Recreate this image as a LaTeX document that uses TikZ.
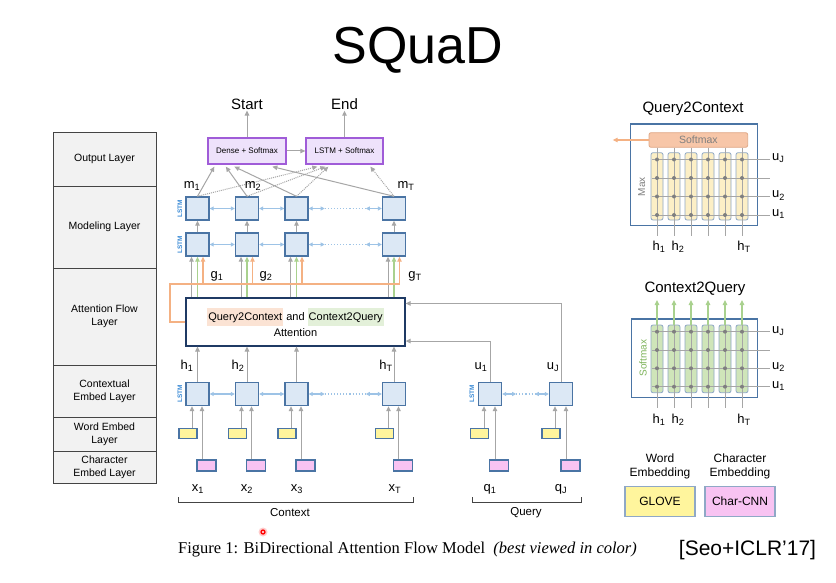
\documentclass[tikz,border=0pt]{standalone}
\usepackage{fontspec}
\setmainfont{Liberation Sans}
\newfontfamily\serifcap{Liberation Serif}
\usetikzlibrary{arrows.meta,calc}
\newcommand\myfs[2]{\fontsize{#1bp}{#2bp}\selectfont}
\newcommand\hlbox[2]{{\setlength{\fboxsep}{1bp}\colorbox{#1}{\strut #2}}}
\definecolor{lstmf}{HTML}{DCE8F5}
\definecolor{lstmb}{HTML}{4A74A4}
\definecolor{arrg}{HTML}{A6A6A6}
\definecolor{lblue}{HTML}{9DC3E6}
\definecolor{grn}{HTML}{A9D18E}
\definecolor{orng}{HTML}{F4B183}
\definecolor{ylw}{HTML}{FFF59D}
\definecolor{pnk}{HTML}{F8C3F2}
\definecolor{navy}{HTML}{1F3A64}
\definecolor{purp}{HTML}{A05CD8}
\definecolor{lav}{HTML}{EEE2FB}
\definecolor{lstmtxt}{HTML}{3B8BD6}
\definecolor{tblf}{HTML}{F2F2F2}
\definecolor{tblb}{HTML}{444444}
\definecolor{smxf}{HTML}{F7C6A8}
\definecolor{smxb}{HTML}{E0A987}
\definecolor{colyf}{HTML}{FCEFC6}
\definecolor{colgf}{HTML}{CFE5B9}
\definecolor{colb}{HTML}{8FA8C6}
\definecolor{dotg}{HTML}{7F7F7F}
\definecolor{hlo}{HTML}{FBE3D4}
\definecolor{hlg}{HTML}{E3F0D9}
\definecolor{txtg}{HTML}{7F7F7F}
\definecolor{txtgr}{HTML}{7DB35A}
\tikzset{
 lstm/.style={draw=lstmb, fill=lstmf, line width=1.4bp, minimum width=23bp, minimum height=23bp, inner sep=0pt},
 wbox/.style={draw=lstmb, fill=ylw, line width=1.1bp, minimum width=18bp, minimum height=10bp, inner sep=0pt},
 cbox/.style={draw=lstmb, fill=pnk, line width=1.1bp, minimum width=19bp, minimum height=11bp, inner sep=0pt},
 tip/.style={-{Triangle[length=5bp,width=4.5bp]}},
 ga/.style={draw=arrg, line width=1bp, tip},
 gdot/.style={draw=arrg, line width=1bp, densely dotted, tip},
 gline/.style={draw=arrg, line width=0.9bp},
 ba/.style={draw=lblue, line width=1.1bp, {Triangle[length=4bp,width=4bp]}-{Triangle[length=4bp,width=4bp]}},
 bdot/.style={draw=lblue, line width=1.1bp, dotted},
 gra/.style={draw=grn, line width=1.1bp, tip},
 ora/.style={draw=orng, line width=1.1bp, tip},
 oline/.style={draw=orng, line width=1.1bp},
 outb/.style={draw=purp, fill=lav, line width=1.3bp, minimum width=78bp, minimum height=26bp, inner sep=0pt, font=\myfs{8}{9}},
 layer/.style={draw=tblb, fill=tblf, line width=0.8bp, minimum width=103bp, inner sep=0pt, align=center, font=\myfs{10.5}{13}},
 lbl/.style={inner sep=0pt, font=\myfs{13}{14}},
 lstmlbl/.style={rotate=90, inner sep=0pt, text=lstmtxt, font=\myfs{6.5}{7}\bfseries},
 panel/.style={draw=lstmb, line width=1.1bp, inner sep=0pt},
 ycol/.style={draw=colb, fill=colyf, line width=0.8bp, rounded corners=2bp, minimum width=12bp, minimum height=67.3bp, inner sep=0pt},
 gcol/.style={draw=colb, fill=colgf, line width=0.8bp, rounded corners=2bp, minimum width=12bp, minimum height=67.7bp, inner sep=0pt},
 legb/.style={draw=colb, line width=1.1bp, minimum width=70bp, minimum height=30bp, inner sep=0pt, font=\myfs{12}{13}},
 brk/.style={draw=tblb, line width=0.8bp},
}
\begin{document}
\begin{tikzpicture}[x=1bp, y=-1bp]
\path[use as bounding box, fill=white] (0,0) rectangle (836,583);

% title
\node[inner sep=0pt, font=\myfs{52}{56}] (title) at (418,50) {SQuaD};

% left layer table
\node[layer, minimum height=54bp] (lo) at (104.5,159) {Output Layer};
\node[layer, minimum height=82bp] (lm) at (104.5,227) {Modeling Layer};
\node[layer, minimum height=97bp] (la) at (104.5,316.5) {Attention Flow\\Layer};
\node[layer, minimum height=52bp] (lc) at (104.5,391) {Contextual\\Embed Layer};
\node[layer, minimum height=34bp] (lw) at (104.5,434) {Word Embed\\Layer};
\node[layer, minimum height=32bp] (lch) at (104.5,467) {Character\\Embed Layer};

% output boxes
\node[outb] (dense) at (247,151) {Dense + Softmax};
\node[outb, minimum width=77bp] (lsoft) at (344.5,151) {LSTM + Softmax};
\node[inner sep=1bp, font=\myfs{15}{16}] (start) at (247,104) {Start};
\node[inner sep=1bp, font=\myfs{15}{16}] (end) at (344.5,104) {End};
\draw[ga] (dense.north) -- (start.south);
\draw[ga] (lsoft.north) -- (end.south);
\draw[ga] (dense.east) -- (lsoft.west);

% attention box
\node[draw=navy, fill=white, line width=1.1bp, minimum width=219bp, minimum height=48bp, inner sep=0pt, align=center, font=\myfs{11}{16}] (att) at (295.5,322)
  {\hlbox{hlo}{Query2Context} and \hlbox{hlg}{Context2Query}\\Attention};
\coordinate (obend) at (170,284);

% columns
\foreach \i/\x in {1/197.5,2/247,3/296.5,4/394} {
  \node[lstm] (mt\i) at (\x,208.5) {};
  \node[lstm] (mb\i) at (\x,244.5) {};
  \node[lstm] (c\i) at (\x,394) {};
  \node[wbox] (w\i) at (\x-9.5,433.5) {};
  \node[cbox] (ch\i) at (\x+9,465.5) {};
}
\foreach \i in {1,...,4} {
  \draw[ga] (mb\i.north) -- (mt\i.south);
  \coordinate (gl\i) at ($(mb\i.south)+(-6,0)$);
  \coordinate (gg\i) at (mb\i.south);
  \coordinate (go\i) at ($(mb\i.south)+(5.5,0)$);
  \draw[ga] (gl\i |- att.north) -- (gl\i);
  \draw[gra] (gg\i |- att.north) -- (gg\i);
  \draw[ora] (go\i |- obend) -- (go\i);
  \draw[ga] (c\i.north) -- (c\i.north |- att.south);
  \coordinate (wl\i) at ($(c\i.south)+(-5.5,0)$);
  \coordinate (cr\i) at ($(c\i.south)+(4.5,0)$);
  \draw[ga] (wl\i |- w\i.north) -- (wl\i);
  \draw[ga] (cr\i |- ch\i.north) -- (cr\i);
}
\draw[oline] (att.west) -| (obend) -- (go4 |- obend);

% horizontal bidirectional links
\foreach \r in {mt,mb,c} {
  \draw[ba] (\r1.east) -- (\r2.west);
  \draw[ba] (\r2.east) -- (\r3.west);
  \draw[ba] (\r3.east) -- ($(\r3.east)+(16,0)$);
  \draw[bdot] ($(\r3.east)+(16,0)$) -- ($(\r4.west)+(-16,0)$);
  \draw[ba] ($(\r4.west)+(-16,0)$) -- (\r4.west);
}

% modeling -> output
\coordinate (ds1) at ($(dense.south west)+(7,2)$);
\coordinate (ds2) at ($(dense.south west)+(18.5,2)$);
\coordinate (ds3) at ($(dense.south west)+(27,2)$);
\coordinate (ds4) at ($(dense.south west)+(65,2)$);
\coordinate (ls1) at ($(lsoft.south west)+(12,2)$);
\coordinate (ls2) at ($(lsoft.south west)+(20,2)$);
\coordinate (ls3) at ($(lsoft.south west)+(23,2)$);
\coordinate (ls4) at ($(lsoft.south west)+(65,2)$);
\foreach \i in {1,...,4} {
  \draw[gdot] (mt\i.north) -- (ls\i);
  \draw[ga] (mt\i.north) -- (ds\i);
}

% LSTM labels
\node[lstmlbl] (l1) at (180,208.5) {LSTM};
\node[lstmlbl] (l2) at (180,244.5) {LSTM};
\node[lstmlbl] (l3) at (180,394) {LSTM};
\node[lstmlbl] (l4) at (472,394) {LSTM};

% m, g, h labels
\node[lbl] (m1) at (192,186) {m\textsubscript{1}};
\node[lbl] (m2) at (253,186) {m\textsubscript{2}};
\node[lbl] (mT) at (406,186) {m\textsubscript{T}};
\node[lbl] (g1) at (217,276) {g\textsubscript{1}};
\node[lbl] (g2) at (266,276) {g\textsubscript{2}};
\node[lbl] (gT) at (415,276) {g\textsubscript{T}};
\node[lbl] (h1) at (187,366) {h\textsubscript{1}};
\node[lbl] (h2) at (238,366) {h\textsubscript{2}};
\node[lbl] (hT) at (386,366) {h\textsubscript{T}};

% query side
\node[lstm] (q1) at (490,394) {};
\node[lstm] (qj) at (561,394) {};
\node[wbox] (qw1) at (479.5,433.5) {};
\node[wbox] (qwj) at (551,433.5) {};
\node[cbox] (qch1) at (499,465.5) {};
\node[cbox] (qchj) at (570.5,465.5) {};
\coordinate (qa1) at ($(q1.south)+(-6,0)$);
\coordinate (qb1) at ($(q1.south)+(5,0)$);
\coordinate (qaj) at ($(qj.south)+(-6,0)$);
\coordinate (qbj) at ($(qj.south)+(5,0)$);
\draw[ga] (qa1 |- qw1.north) -- (qa1);
\draw[ga] (qb1 |- qch1.north) -- (qb1);
\draw[ga] (qaj |- qwj.north) -- (qaj);
\draw[ga] (qbj |- qchj.north) -- (qbj);
\draw[ba] (q1.east) -- ($(q1.east)+(14,0)$);
\draw[bdot] ($(q1.east)+(14,0)$) -- ($(qj.west)+(-14,0)$);
\draw[ba] ($(qj.west)+(-14,0)$) -- (qj.west);
\coordinate (ae1) at ($(att.south east)+(0,-5.5)$);
\coordinate (ae2) at ($(att.north east)+(0,6)$);
\draw[ga] (q1.north) |- (ae1);
\draw[ga] (qj.north) |- (ae2);
\node[lbl] (u1) at (481,367) {u\textsubscript{1}};
\node[lbl] (uJ) at (553,367) {u\textsubscript{J}};

% bottom labels
\node[lbl] (x1) at (198,489) {x\textsubscript{1}};
\node[lbl] (x2) at (247,489) {x\textsubscript{2}};
\node[lbl] (x3) at (297,489) {x\textsubscript{3}};
\node[lbl] (xT) at (395,489) {x\textsubscript{T}};
\node[lbl] (qq1) at (490,489) {q\textsubscript{1}};
\node[lbl] (qqJ) at (561,489) {q\textsubscript{J}};
\coordinate (cbl) at (178,497);
\coordinate (cbr) at (413,497);
\coordinate (qbl) at (472,497);
\coordinate (qbr) at (581,497);
\draw[brk] (cbl) -- ++(0,5) -| (cbr);
\draw[brk] (qbl) -- ++(0,5) -| (qbr);
\node[inner sep=0pt, font=\myfs{11.5}{12}] (ctx) at (290,513) {Context};
\node[inner sep=0pt, font=\myfs{11.5}{12}] (qry) at (526,513) {Query};

% Query2Context panel
\node[inner sep=0pt, font=\myfs{15}{16}] (t1) at (693,109) {Query2Context};
\node[panel, minimum width=127bp, minimum height=101.7bp] (q2c) at (694.2,174.85) {};
\node[draw=smxb, fill=smxf, line width=0.8bp, rounded corners=2bp, minimum width=98.7bp, minimum height=14.6bp, inner sep=0pt, text=txtg, font=\myfs{10.5}{11}] (smx) at (698.35,140) {Softmax};
\coordinate (oarrow) at (612.7,140);
\draw[ora] (smx.west) -- (oarrow);
\foreach \k/\x in {1/657,2/674,3/691,4/708,5/725,6/742} {
  \node[ycol] (yc\k) at (\x,186.35) {};
  \coordinate (yv\k) at (\x,236);
  \draw[gline] (yv\k |- smx.south) -- (yv\k);
}
\foreach \y in {159.5,178,196.5,215} {
  \coordinate (yhl) at (652,\y);
  \coordinate (yhr) at (770,\y);
  \draw[gline] (yhl) -- (yhr);
  \foreach \x in {657,674,691,708,725,742} \fill[dotg] (\x,\y) circle (2bp);
}
\node[rotate=90, inner sep=0pt, text=txtg, font=\myfs{10}{11}] (mx) at (641.7,186.7) {Max};
\node[lbl, anchor=west] (a1) at (772,158.5) {u\textsubscript{J}};
\node[lbl, anchor=west] (a2) at (772,195.5) {u\textsubscript{2}};
\node[lbl, anchor=west] (a3) at (772,214) {u\textsubscript{1}};
\node[lbl] (b1) at (659,247) {h\textsubscript{1}};
\node[lbl] (b2) at (678,247) {h\textsubscript{2}};
\node[lbl] (b3) at (744,247) {h\textsubscript{T}};

% Context2Query panel
\node[inner sep=0pt, font=\myfs{15}{16}] (t2) at (695,289) {Context2Query};
\node[panel, minimum width=126bp, minimum height=78.7bp] (c2q) at (694.7,358.35) {};
\foreach \k/\x in {1/657,2/674,3/691,4/708,5/725,6/742} {
  \node[gcol] (gc\k) at (\x,358.85) {};
  \coordinate (gt\k) at (\x,300);
  \coordinate (gb\k) at (\x,408);
  \draw[gline] (gc\k.north) -- (gb\k);
  \draw[gra] (gc\k.north) -- (gt\k);
}
\foreach \y in {331.7,350,368.3,386.7} {
  \coordinate (ghl) at (652,\y);
  \coordinate (ghr) at (770,\y);
  \draw[gline] (ghl) -- (ghr);
  \foreach \x in {657,674,691,708,725,742} \fill[dotg] (\x,\y) circle (2bp);
}
\node[rotate=90, inner sep=0pt, text=txtgr, font=\myfs{10}{11}] (sm2) at (643,358) {Softmax};
\node[lbl, anchor=west] (e1) at (772,330.7) {u\textsubscript{J}};
\node[lbl, anchor=west] (e2) at (772,367.3) {u\textsubscript{2}};
\node[lbl, anchor=west] (e3) at (772,385.7) {u\textsubscript{1}};
\node[lbl] (f1) at (659,420) {h\textsubscript{1}};
\node[lbl] (f2) at (678,420) {h\textsubscript{2}};
\node[lbl] (f3) at (744,420) {h\textsubscript{T}};

% legend
\node[align=center, inner sep=0pt, font=\myfs{12}{14}] (lg1) at (660,466) {Word\\Embedding};
\node[align=center, inner sep=0pt, font=\myfs{12}{14}] (lg2) at (740,466) {Character\\Embedding};
\node[legb, fill=ylw] (glove) at (660,501.7) {GLOVE};
\node[legb, fill=pnk] (ccnn) at (740,501.7) {Char-CNN};

% caption
\node[inner sep=0pt, font=\serifcap\myfs{16.5}{18}] (cap) at (407.5,550) {Figure 1: BiDirectional Attention Flow Model\ \ \textit{(best viewed in color)}};
\node[inner sep=0pt, font=\myfs{21}{22}] (ref) at (747.5,550) {[Seo+ICLR’17]};

% pointer mark
\fill[red!20] (263,532) circle (4.5bp);
\draw[red, line width=1.3bp] (263,532) circle (2bp);
\end{tikzpicture}
\end{document}
